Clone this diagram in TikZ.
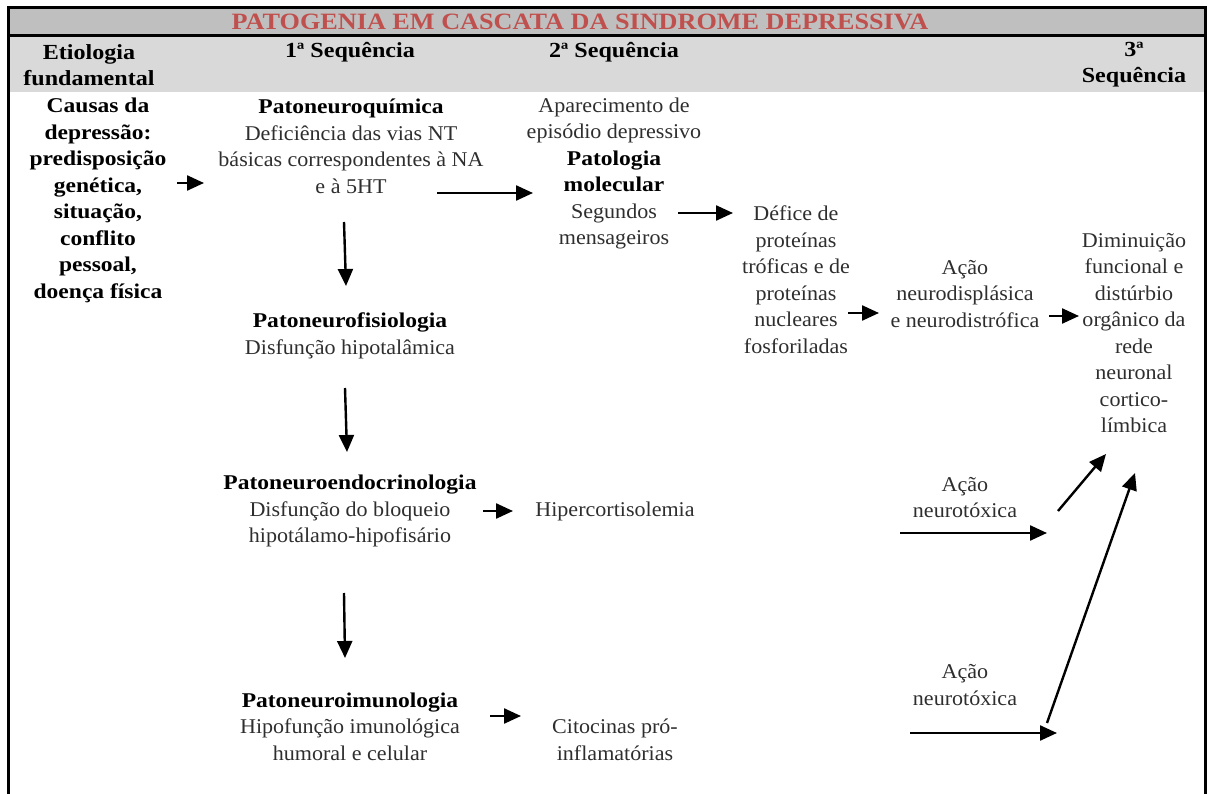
\documentclass[tikz,border=0pt]{standalone}
\usepackage{fontspec}
\setmainfont{Liberation Serif}[UprightFeatures={FakeStretch=1.05}, BoldFeatures={FakeStretch=1.12}]
\usetikzlibrary{arrows.meta}
\definecolor{titlered}{HTML}{C0504D}
\definecolor{bandA}{HTML}{BFBFBF}
\definecolor{bandB}{HTML}{D9D9D9}
\definecolor{txt}{HTML}{2E2E2E}
\tikzset{
  body/.style={font=\fontsize{21}{26.5}\selectfont, text=txt, align=center, inner sep=0pt},
  bodyb/.style={font=\fontsize{21}{26.5}\selectfont\bfseries, text=black, align=center, inner sep=0pt},
  hdr/.style={font=\fontsize{21.5}{26}\selectfont\bfseries, text=black, align=center, inner sep=0pt},
  arr/.style={line width=2.4pt, -{Triangle[length=17pt,width=15pt]}},
  frameline/.style={line width=3pt}
}
\begin{document}
\begin{tikzpicture}[x=1pt,y=-1pt]
\useasboundingbox (0,0) rectangle (1208,794);
% bands and frame
\fill[bandA] (8.5,8) rectangle (1205,35);
\fill[bandB] (8.5,37) rectangle (1205,92.5);
\draw[frameline] (8.5,794) -- (8.5,8) -- (1205,8) -- (1205,794);
\draw[frameline] (8.5,36) -- (1205,36);
% title and headers
\node[font=\fontsize{23.4}{28}\selectfont\bfseries, text=titlered, inner sep=0pt] (title) at (580,21.5) {PATOGENIA EM CASCATA DA SINDROME DEPRESSIVA};
\node[hdr] (h0) at (89,65) {Etiologia\\fundamental};
\node[hdr] (h1) at (350,52) {1ª Sequência};
\node[hdr] (h2) at (614,52) {2ª Sequência};
\node[hdr] (h3) at (1134,65) {3ª\\Sequência};
% body nodes
\node[bodyb] (cause) at (98,200.5) {Causas da\\depressão:\\predisposição\\genética,\\situação,\\conflito\\pessoal,\\doença física};
\node[body] (neuroq) at (351,146.5) {\textbf{\color{black}Patoneuroquímica}\\Deficiência das vias NT\\básicas correspondentes à NA\\e à 5HT};
\node[body] (fisio) at (350,336) {\textbf{\color{black}Patoneurofisiologia}\\Disfunção hipotalâmica};
\node[body] (endo) at (350,511) {\textbf{\color{black}Patoneuroendocrinologia}\\Disfunção do bloqueio\\hipotálamo-hipofisário};
\node[body] (imuno) at (350,726.5) {\textbf{\color{black}Patoneuroimunologia}\\Hipofunção imunológica\\humoral e celular};
\node[body] (molec) at (614,173.5) {Aparecimento de\\episódio depressivo\\\textbf{\color{black}Patologia}\\\textbf{\color{black}molecular}\\Segundos\\mensageiros};
\node[body] (hiper) at (615,511) {Hipercortisolemia};
\node[body] (cito) at (615,740) {Citocinas pró-\\inflamatórias};
\node[body] (defice) at (796,279.5) {Défice de\\proteínas\\tróficas e de\\proteínas\\nucleares\\fosforiladas};
\node[body] (acao1) at (965,294) {Ação\\neurodisplásica\\e neurodistrófica};
\node[body] (dimin) at (1134,333) {Diminuição\\funcional e\\distúrbio\\orgânico da\\rede\\neuronal\\cortico-\\límbica};
\node[body] (acao2) at (965,497.5) {Ação\\neurotóxica};
\node[body] (acao3) at (965,685) {Ação\\neurotóxica};
% arrow end points
\coordinate (a1s) at (177,183);  \coordinate (a1e) at (204,183);
\coordinate (a2s) at (437,193);  \coordinate (a2e) at (533,193);
\coordinate (a3s) at (344,222);  \coordinate (a3e) at (346,286);
\coordinate (a4s) at (345,388);  \coordinate (a4e) at (347,452);
\coordinate (a5s) at (344,593);  \coordinate (a5e) at (345,658);
\coordinate (a6s) at (483,511);  \coordinate (a6e) at (513,511);
\coordinate (a7s) at (490,716);  \coordinate (a7e) at (521,716);
\coordinate (a8s) at (678,213);  \coordinate (a8e) at (733,213);
\coordinate (a9s) at (848,313);  \coordinate (a9e) at (879,313);
\coordinate (a10s) at (1049,316); \coordinate (a10e) at (1079,316);
\coordinate (a11s) at (900,533); \coordinate (a11e) at (1047,533);
\coordinate (a12s) at (1058,511); \coordinate (a12e) at (1106,454);
\coordinate (a13s) at (910,733); \coordinate (a13e) at (1057,733);
\coordinate (a14s) at (1047,723); \coordinate (a14e) at (1135,473);
\draw[arr] (a1s) -- (a1e);
\draw[arr] (a2s) -- (a2e);
\draw[arr] (a3s) -- (a3e);
\draw[arr] (a4s) -- (a4e);
\draw[arr] (a5s) -- (a5e);
\draw[arr] (a6s) -- (a6e);
\draw[arr] (a7s) -- (a7e);
\draw[arr] (a8s) -- (a8e);
\draw[arr] (a9s) -- (a9e);
\draw[arr] (a10s) -- (a10e);
\draw[arr] (a11s) -- (a11e);
\draw[arr] (a12s) -- (a12e);
\draw[arr] (a13s) -- (a13e);
\draw[arr] (a14s) -- (a14e);
\end{tikzpicture}
\end{document}
